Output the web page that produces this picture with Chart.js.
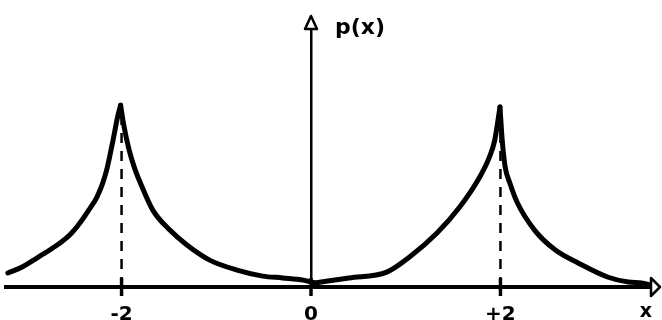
<!DOCTYPE html>
<html>
<head>
<meta charset="utf-8">
<style>
  html, body { margin: 0; padding: 0; background: #fff; }
  canvas { display: block; }
</style>
<script src="https://cdn.jsdelivr.net/npm/chart.js@4/dist/chart.umd.min.js"></script>
</head>
<body>
<canvas id="c" width="662" height="320"></canvas>
<script>
// Density p(x): two sharp peaks at x = -2 and x = +2
const curveX = [-3.20, -3.05, -2.93, -2.80, -2.65, -2.54, -2.44, -2.35, -2.26, -2.20, -2.15, -2.09, -2.04, -2.01,
                -1.98, -1.92, -1.86, -1.80, -1.67, -1.49, -1.31, -1.07, -0.78, -0.51, -0.30, -0.08,
                 0.04, 0.40, 0.80, 1.04, 1.33, 1.57, 1.78, 1.88, 1.94, 1.995,
                 2.02, 2.05, 2.10, 2.18, 2.36, 2.58, 2.82, 3.13, 3.35, 3.49, 3.58];
const curveY = [0.077, 0.110, 0.148, 0.190, 0.242, 0.290, 0.352, 0.420, 0.495, 0.570, 0.659, 0.808, 0.940, 1.000,
                0.900, 0.753, 0.650, 0.571, 0.423, 0.313, 0.231, 0.148, 0.093, 0.060, 0.050, 0.038,
                0.022, 0.050, 0.082, 0.165, 0.297, 0.440, 0.604, 0.710, 0.808, 0.990,
                0.800, 0.660, 0.571, 0.462, 0.313, 0.203, 0.132, 0.055, 0.027, 0.022, 0.012];

// Peak markers (dashed drop lines)
const peakX = [-2, 2];
const peakTop = [0.95, 0.94];

// x-axis ticks
const xTickValues = [-2, 0, 2];
const xTickLabels = ['-2', '0', '+2'];
const xAxisName = 'x';
const yAxisName = 'p(x)';

const X_MIN = -3.22, X_MAX = 3.6;
const Y_MIN = 0, Y_MAX = 1.48;

// Split the curve into monotone branches so each peak stays sharp
function monotoneBranches(xs, ys) {
  const out = [];
  let start = 0;
  for (let i = 1; i < ys.length - 1; i++) {
    const a = ys[i] - ys[i - 1], b = ys[i + 1] - ys[i];
    if (a * b < 0) {
      out.push([start, i]);
      start = i;
    }
  }
  out.push([start, ys.length - 1]);
  return out.map(([s, e]) => xs.slice(s, e + 1).map((x, k) => ({ x: x, y: ys[s + k] })));
}

const branches = monotoneBranches(curveX, curveY).map(pts => ({
  data: pts,
  showLine: true,
  borderColor: '#000',
  borderWidth: 5,
  borderJoinStyle: 'round',
  borderCapStyle: 'round',
  pointRadius: 0,
  cubicInterpolationMode: 'monotone',
  clip: false
}));

const dropLines = peakX.map((x, i) => ({
  data: [{ x: x, y: 0 }, { x: x, y: peakTop[i] }],
  showLine: true,
  borderColor: '#000',
  borderWidth: 2.5,
  borderDash: [10, 8],
  pointRadius: 0
}));

const tickMarks = {
  data: xTickValues.map(v => ({ x: v, y: 0 })),
  showLine: false,
  pointStyle: 'line',
  rotation: 90,
  pointRadius: 9,
  borderColor: '#000',
  borderWidth: 3.5,
  clip: false
};

// Open arrowheads at the ends of both axes, and the axis names
const axisDecor = {
  id: 'axisDecor',
  afterDraw(chart) {
    const { ctx, scales: { x, y } } = chart;
    const x0 = x.getPixelForValue(0);
    const y0 = y.getPixelForValue(0);
    const xEnd = x.getPixelForValue(X_MAX);
    const yEnd = y.getPixelForValue(Y_MAX);
    ctx.save();
    ctx.strokeStyle = '#000';
    ctx.fillStyle = '#fff';
    ctx.lineWidth = 2.5;
    ctx.lineJoin = 'round';
    ctx.beginPath();
    ctx.moveTo(xEnd - 1, y0 - 9);
    ctx.lineTo(xEnd + 8, y0);
    ctx.lineTo(xEnd - 1, y0 + 9);
    ctx.closePath();
    ctx.fill();
    ctx.stroke();
    ctx.beginPath();
    ctx.moveTo(x0 - 6, yEnd + 11);
    ctx.lineTo(x0, yEnd - 2);
    ctx.lineTo(x0 + 6, yEnd + 11);
    ctx.closePath();
    ctx.fill();
    ctx.stroke();
    ctx.fillStyle = '#000';
    ctx.font = 'bold 22px "DejaVu Sans"';
    ctx.textAlign = 'left';
    ctx.textBaseline = 'alphabetic';
    ctx.fillText(yAxisName, x0 + 24, yEnd + 16);
    ctx.font = 'bold 19px "DejaVu Sans"';
    ctx.textAlign = 'center';
    ctx.textBaseline = 'top';
    ctx.fillText(xAxisName, xEnd - 6, y0 + 16);
    ctx.restore();
  }
};

new Chart(document.getElementById('c'), {
  type: 'scatter',
  data: { datasets: [...branches, ...dropLines, tickMarks] },
  options: {
    responsive: false,
    animation: false,
    layout: { autoPadding: false, padding: { left: 6, right: 10, top: 18, bottom: 33 } },
    plugins: { legend: { display: false }, tooltip: { enabled: false } },
    scales: {
      x: {
        type: 'linear',
        position: { y: 0 },
        min: X_MIN,
        max: X_MAX,
        grid: { display: false, drawTicks: true, tickLength: 8 },
        border: { display: true, color: '#000', width: 4 },
        afterBuildTicks: (scale) => {
          scale.ticks = xTickValues.map(v => ({ value: v }));
        },
        afterFit: (scale) => {
          scale.paddingLeft = 0;
          scale.paddingRight = 0;
        },
        ticks: {
          autoSkip: false,
          maxRotation: 0,
          padding: 8,
          color: '#000',
          font: { family: 'DejaVu Sans', size: 20, weight: 'bold' },
          callback: (v) => {
            const i = xTickValues.indexOf(v);
            return i >= 0 ? xTickLabels[i] : '';
          }
        }
      },
      y: {
        type: 'linear',
        position: { x: 0 },
        min: Y_MIN,
        max: Y_MAX,
        grid: { display: false, drawTicks: false },
        border: { display: true, color: '#000', width: 2.5 },
        ticks: { display: false, padding: 0 }
      }
    }
  },
  plugins: [axisDecor]
});
</script>
</body>
</html>
